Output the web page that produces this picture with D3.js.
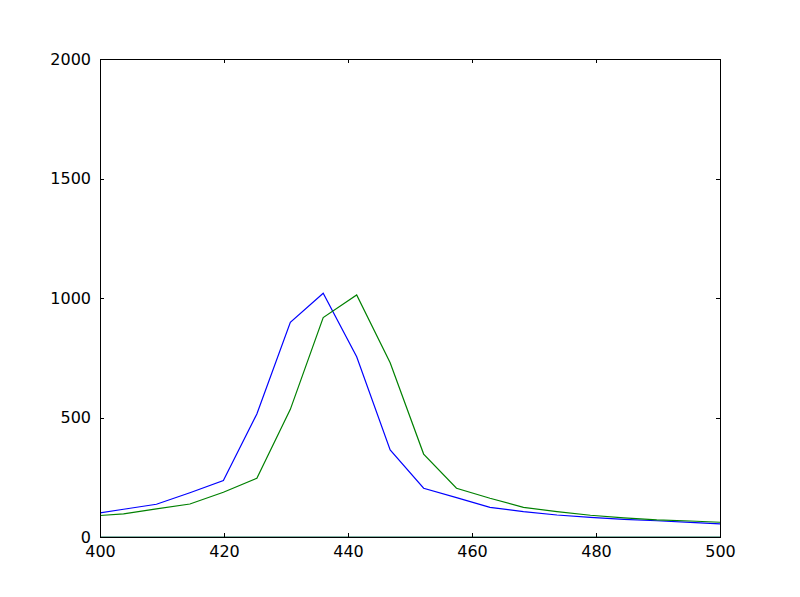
<!DOCTYPE html>
<html>
<head>
<meta charset="utf-8">
<script src="https://cdn.jsdelivr.net/npm/d3@7"></script>
<style>
  body { margin: 0; background: #fff; }
  svg { display: block; font-family: 'DejaVu Sans', sans-serif; }
</style>
</head>
<body>
<svg id="chart" width="800" height="597"></svg>
<script>
// wavelengths (nm) sampled in the picture
var wavelengths = [398.4, 403.8, 409.1, 414.5, 419.9, 425.3, 430.7, 436.0, 441.4, 446.8,
                   452.2, 457.5, 462.9, 468.3, 473.7, 479.1, 484.5, 489.8, 495.2, 500.6];
var blueValues = [95, 116, 137, 185, 236, 515, 898, 1020, 754, 364,
                  204, 165, 124, 106, 92, 82, 74, 68, 61, 54];
var greenValues = [87, 97, 118, 138, 187, 246, 534, 918, 1013, 729,
                   347, 204, 162, 124, 106, 91, 80, 72, 67, 61];
var baseValues = [0, 0, 0, 0, 0, 0, 0, 0, 0, 0, 0, 0, 0, 0, 0, 0, 0, 0, 0, 0];
var xTicks = [400, 420, 440, 460, 480, 500];
var yTicks = [0, 500, 1000, 1500, 2000];

var svg = d3.select("#chart"),
    plotLeft = 100, plotRight = 720, plotTop = 59, plotBottom = 537;

var xScale = d3.scaleLinear().domain([400, 500]).range([plotLeft, plotRight]),
    yScale = d3.scaleLinear().domain([0, 2000]).range([plotBottom, plotTop]);

svg.append("defs").append("clipPath").attr("id", "plotclip")
    .append("rect")
    .attr("x", plotLeft).attr("y", plotTop)
    .attr("width", plotRight - plotLeft).attr("height", plotBottom - plotTop);

var line = d3.line()
    .x(function (d, i) { return xScale(wavelengths[i]); })
    .y(function (d) { return yScale(d); });

var plot = svg.append("g").attr("clip-path", "url(#plotclip)");

[[blueValues, "#0000ff"], [greenValues, "#008000"], [baseValues, "#0c6b50"]].forEach(function (s) {
    plot.append("path")
        .datum(s[0])
        .attr("fill", "none")
        .attr("stroke", s[1])
        .attr("stroke-width", 1.2)
        .attr("d", line);
});

// frame
svg.append("rect")
    .attr("x", plotLeft).attr("y", plotTop)
    .attr("width", plotRight - plotLeft).attr("height", plotBottom - plotTop)
    .attr("fill", "none").attr("stroke", "#000").attr("stroke-width", 1)
    .attr("shape-rendering", "crispEdges");

// ticks point inward on all four sides, labels only bottom / left
var fmt = d3.format("d");
var xAxisB = d3.axisBottom(xScale).tickValues(xTicks).tickFormat(fmt).tickSizeInner(-4).tickSizeOuter(0).tickPadding(9);
var xAxisT = d3.axisTop(xScale).tickValues(xTicks).tickSizeInner(-4).tickSizeOuter(0).tickFormat("");
var yAxisL = d3.axisLeft(yScale).tickValues(yTicks).tickFormat(fmt).tickSizeInner(-4).tickSizeOuter(0).tickPadding(9);
var yAxisR = d3.axisRight(yScale).tickValues(yTicks).tickSizeInner(-4).tickSizeOuter(0).tickFormat("");

function styleAxis(g) {
    g.select(".domain").remove();
    g.selectAll("line").attr("stroke", "#000").attr("shape-rendering", "crispEdges");
    g.selectAll("text").attr("fill", "#000")
        .attr("font-family", "'DejaVu Sans', sans-serif")
        .attr("font-size", "16px");
}

svg.append("g").attr("transform", "translate(0," + plotBottom + ")").call(xAxisB).call(styleAxis);
svg.append("g").attr("transform", "translate(0," + plotTop + ")").call(xAxisT).call(styleAxis);
svg.append("g").attr("transform", "translate(" + plotLeft + ",0)").call(yAxisL).call(styleAxis);
svg.append("g").attr("transform", "translate(" + plotRight + ",0)").call(yAxisR).call(styleAxis);
</script>
</body>
</html>
